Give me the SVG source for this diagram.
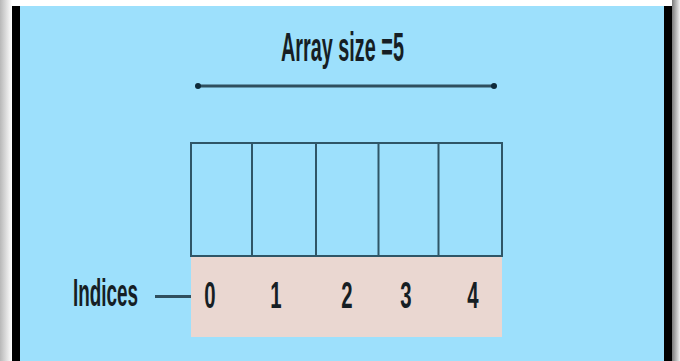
<svg xmlns="http://www.w3.org/2000/svg" width="680" height="361" viewBox="0 0 680 361">
<defs>
<linearGradient id="gl" x1="0" y1="0" x2="1" y2="0">
<stop offset="0" stop-color="#b8b8b8"/><stop offset="1" stop-color="#ffffff"/>
</linearGradient>
<linearGradient id="gr" x1="0" y1="0" x2="1" y2="0">
<stop offset="0" stop-color="#7a7a7a"/><stop offset="1" stop-color="#f0f0f0"/>
</linearGradient>
<marker id="dot" viewBox="0 0 6 6" refX="3" refY="3" markerWidth="2" markerHeight="2.4" orient="auto">
<ellipse cx="3" cy="3" rx="3" ry="3" fill="#0e2a3a"/>
</marker>
<style>
.lbl{font-family:"Liberation Sans",Arial,sans-serif;font-weight:bold;fill:#161e24}
.cell{fill:none;stroke:#2f5667;stroke-width:2}
.ln{stroke:#2f4f5e;stroke-width:3;fill:none}
</style>
</defs>
<rect x="0" y="0" width="680" height="361" fill="#ffffff"/>
<rect x="0" y="0" width="12" height="361" fill="url(#gl)"/>
<rect x="672" y="0" width="8" height="361" fill="url(#gr)"/>
<rect x="12" y="6" width="8" height="355" fill="#000"/>
<rect x="664" y="6" width="8" height="355" fill="#000"/>
<rect x="20" y="6" width="644" height="355" fill="#9de0fc"/>

<g id="size-label">
<text class="lbl" x="0" y="61" font-size="40" transform="translate(281 0) scale(0.496 1)">Array size =5</text>
</g>

<g id="connectors">
<line class="ln" x1="198" y1="86" x2="494" y2="86" marker-start="url(#dot)" marker-end="url(#dot)"/>
<line class="ln" x1="155" y1="296.5" x2="195" y2="296.5"/>
</g>

<g id="indices-row">
<rect x="191" y="257" width="311" height="80" fill="#ead7d1"/>
<text class="lbl" x="0" y="308" font-size="37" text-anchor="middle" transform="translate(210 0) scale(0.55 1)">0</text>
<text class="lbl" x="0" y="308" font-size="37" text-anchor="middle" transform="translate(276 0) scale(0.55 1)">1</text>
<text class="lbl" x="0" y="308" font-size="37" text-anchor="middle" transform="translate(347 0) scale(0.55 1)">2</text>
<text class="lbl" x="0" y="308" font-size="37" text-anchor="middle" transform="translate(406 0) scale(0.55 1)">3</text>
<text class="lbl" x="0" y="308" font-size="37" text-anchor="middle" transform="translate(473 0) scale(0.55 1)">4</text>
</g>

<g id="array">
<rect class="cell" x="191" y="143" width="311" height="113"/>
<line class="cell" x1="252" y1="143" x2="252" y2="256"/>
<line class="cell" x1="316" y1="143" x2="316" y2="256"/>
<line class="cell" x1="378.5" y1="143" x2="378.5" y2="256"/>
<line class="cell" x1="438.5" y1="143" x2="438.5" y2="256"/>
</g>

<g id="indices-label">
<text class="lbl" x="0" y="306" font-size="39" transform="translate(73 0) scale(0.484 1)">Indices</text>
</g>
</svg>
